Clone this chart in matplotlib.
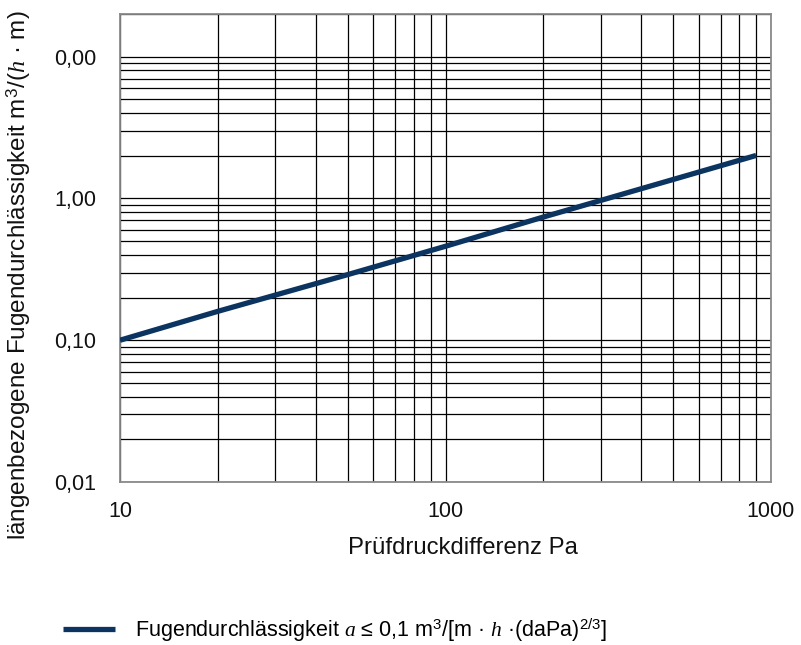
import matplotlib
matplotlib.use("Agg")
import matplotlib.pyplot as plt
from matplotlib.ticker import FixedLocator, FixedFormatter, LogLocator, NullFormatter

plt.rcParams['font.family'] = ['Liberation Sans', 'DejaVu Sans']
plt.rcParams['mathtext.fontset'] = 'custom'
plt.rcParams['mathtext.rm'] = 'Liberation Sans'
plt.rcParams['mathtext.it'] = 'Liberation Serif:italic'
plt.rcParams['mathtext.bf'] = 'Liberation Sans:bold'

# data
pressure = [10, 20, 50, 100, 200, 500, 900]
leakage = [0.10, 0.16, 0.29, 0.46, 0.74, 1.36, 2.01]

x_ticks = [10, 100, 1000]
x_ticklabels = ["10", "100", "1000"]
y_ticks = [0.01, 0.1, 1, 10]
y_ticklabels = ["0,01", "0,10", "1,00", "0,00"]

series_label = r"Fugendurchlässigkeit $\mathit{a}$ ≤ 0,1 m$^{3}$/[m · $\mathit{h}$ ·(daPa)$^{2/3}$]"
x_label = "Prüfdruckdifferenz Pa"
y_label = r"längenbezogene Fugendurchlässigkeit m$^{3}$/($\mathit{h}$ · m)"

fig = plt.figure(figsize=(8.01, 6.45), dpi=100)
ax = fig.add_axes([120/801, 1-482/645, 651/801, 468/645])

ax.set_xscale('log')
ax.set_yscale('log')
ax.set_xlim(10, 1000)
ax.set_ylim(0.01, 20)

line, = ax.plot(pressure, leakage, color='#0b3461', lw=3.8, solid_capstyle='butt',
                label=series_label, zorder=3)

ax.xaxis.set_major_locator(FixedLocator(x_ticks))
ax.xaxis.set_major_formatter(FixedFormatter(x_ticklabels))
ax.xaxis.set_minor_locator(LogLocator(base=10, subs=range(2, 10), numticks=20))
ax.xaxis.set_minor_formatter(NullFormatter())
ax.yaxis.set_major_locator(FixedLocator(y_ticks))
ax.yaxis.set_major_formatter(FixedFormatter(y_ticklabels))
ax.yaxis.set_minor_locator(LogLocator(base=10, subs=range(2, 10), numticks=20))
ax.yaxis.set_minor_formatter(NullFormatter())

ax.grid(True, which='both', color='black', lw=0.9)
ax.set_axisbelow(True)
ax.tick_params(which='both', length=0, labelsize=15.5, colors='#111111')
ax.tick_params(axis='x', pad=14)
ax.tick_params(axis='y', pad=17)
for s in ax.spines.values():
    s.set_color('#8a8a8a')
    s.set_linewidth(1.3)

fig.text(463/801, 1-548/645, x_label, fontsize=17.2, color='#111111',
         ha='center', va='center')
fig.text(19/801, 1-275/645, y_label, fontsize=17.5, color='#111111',
         ha='center', va='center', rotation=90)

fig.legend(handles=[line], loc='center left', bbox_to_anchor=(63/801, 1-630/645),
           frameon=False, fontsize=15.5, handlelength=2.4, handletextpad=0.95,
           borderpad=0, borderaxespad=0)

fig.savefig('out.png', dpi=100, facecolor='white')
